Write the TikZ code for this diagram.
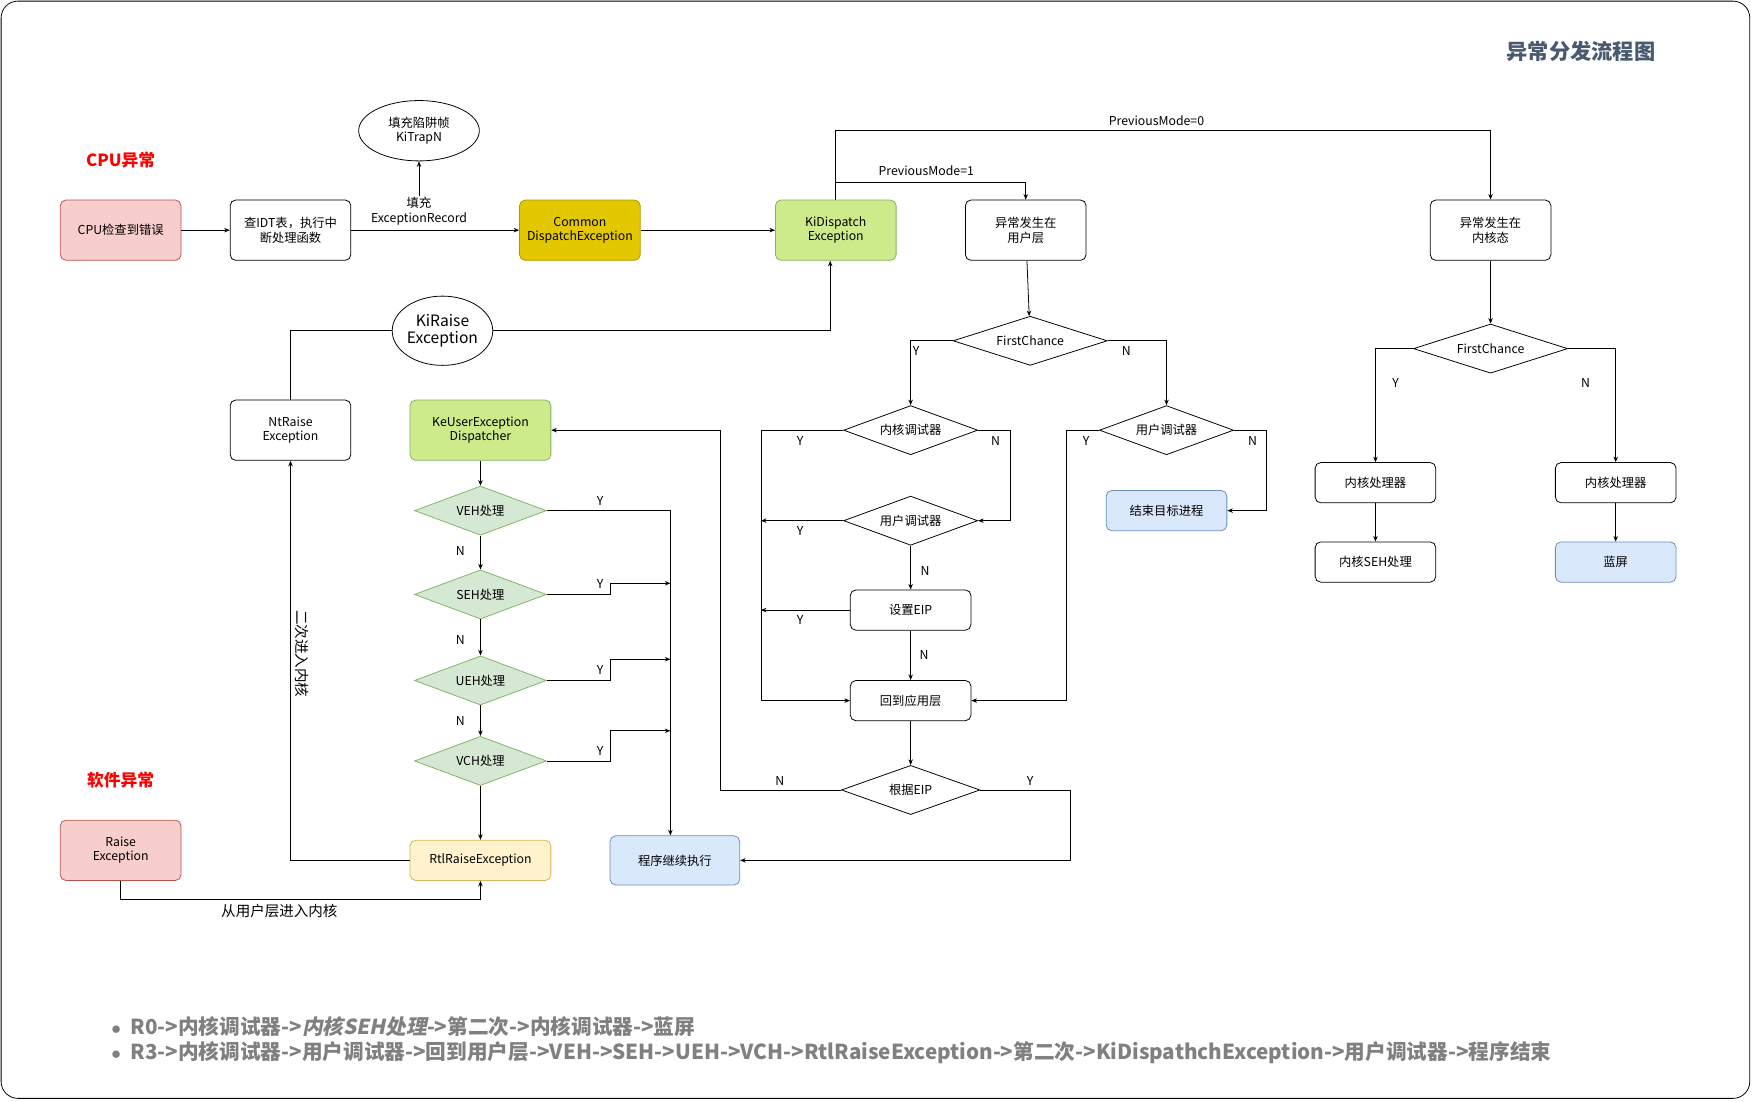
\documentclass[tikz,border=0pt]{standalone}
\usepackage{fontspec}
\setmainfont{Noto Sans CJK SC}
\newfontfamily\slcjk{Noto Sans CJK SC}[FakeSlant=0.2]
\usetikzlibrary{shapes.geometric,arrows.meta}
\definecolor{redf}{HTML}{F8CECC}\definecolor{redd}{HTML}{B85450}
\definecolor{yelf}{HTML}{E3C800}\definecolor{yeld}{HTML}{B09500}
\definecolor{grnf}{HTML}{CDEB8B}\definecolor{grnd}{HTML}{82B366}
\definecolor{lgrf}{HTML}{D5E8D4}
\definecolor{bluf}{HTML}{DAE8FC}\definecolor{blud}{HTML}{6C8EBF}
\definecolor{ltyf}{HTML}{FFF2CC}\definecolor{ltyd}{HTML}{D6B656}
\definecolor{titc}{HTML}{4A5A6E}
\begin{document}
\begin{tikzpicture}[x=1pt,y=-1pt,
 every node/.style={font=\fontsize{11}{13}\selectfont,align=center},
 box/.style={draw,rounded corners=5pt,minimum width=108pt,minimum height=54pt,inner sep=1pt},
 sbox/.style={box,minimum height=36pt},
 dia/.style={draw,diamond,inner sep=0pt,minimum width=#1,minimum height=44pt,shape aspect=3},
 dia/.default=120pt,
 gdia/.style={dia=118pt,fill=lgrf,draw=grnd},
 lab/.style={font=\fontsize{11}{13}\selectfont,inner sep=1pt},
 ar/.style={-{Stealth[length=5pt,width=4pt]}},
 line width=0.7pt]
\useasboundingbox (0,0) rectangle (1568,985.5);
\draw[rounded corners=15pt] (1,1) rectangle (1566,983);
\node[font=\fontsize{19}{21}\selectfont\bfseries,text=titc] (title) at (1415,46) {异常分发流程图};
\node[font=\fontsize{15}{17}\selectfont\bfseries,text=red] (cpul) at (108,143) {CPU异常};
\node[font=\fontsize{15}{17}\selectfont\bfseries,text=red] (swl) at (108,698) {软件异常};
% nodes
\node[box,fill=redf,draw=redd] (cpu) at (108,206) {CPU检查到错误};
\node[box] (idt) at (260,206) {查IDT表，执行中\\断处理函数};
\node[draw,ellipse,minimum width=108pt,minimum height=54pt,inner sep=0pt] (trap) at (375,117) {填充陷阱帧\\KiTrapN};
\node[lab] (fill) at (375,189) {填充\\ExceptionRecord};
\node[box,fill=yelf,draw=yeld] (common) at (519,206) {Common\\DispatchException};
\node[box,fill=grnf,draw=grnd] (kid) at (748,206) {KiDispatch\\Exception};
\node[box] (user) at (918,206) {异常发生在\\用户层};
\node[box] (kern) at (1334,206) {异常发生在\\内核态};
\node[draw,ellipse,minimum width=90pt,minimum height=62pt,inner sep=0pt,font=\fontsize{14}{16}\selectfont] (kiraise) at (396,296) {KiRaise\\Exception};
\node[box] (nt) at (260,385) {NtRaise\\Exception};
\node[box,fill=grnf,draw=grnd,minimum width=126pt] (keu) at (430,385) {KeUserException\\Dispatcher};
\node[dia=138pt] (fc1) at (922,305) {FirstChance};
\node[dia=138pt] (fc2) at (1334,312) {FirstChance};
\node[dia] (kd1) at (815,385) {内核调试器};
\node[dia] (ud1) at (1044,385) {用户调试器};
\node[sbox,fill=bluf,draw=blud] (end) at (1044,457) {结束目标进程};
\node[dia] (ud2) at (815,466) {用户调试器};
\node[sbox] (seip) at (815,546) {设置EIP};
\node[sbox] (back) at (815,627) {回到应用层};
\node[dia=124pt] (eip) at (815,707) {根据EIP};
\node[box,fill=bluf,draw=blud,minimum width=116pt,minimum height=44pt] (cont) at (604,770) {程序继续执行};
\node[gdia] (veh) at (430,457) {VEH处理};
\node[gdia] (seh) at (430,532) {SEH处理};
\node[gdia] (ueh) at (430,609) {UEH处理};
\node[gdia] (vch) at (430,681) {VCH处理};
\node[sbox,fill=ltyf,draw=ltyd,minimum width=126pt] (rtl) at (430,770) {RtlRaiseException};
\node[box,fill=redf,draw=redd] (raise) at (108,761) {Raise\\Exception};
\node[sbox] (kp1) at (1231,432) {内核处理器};
\node[sbox] (kseh) at (1231,503) {内核SEH处理};
\node[sbox] (kp2) at (1446,432) {内核处理器};
\node[sbox,fill=bluf,draw=blud] (bsod) at (1446,503) {蓝屏};
% edges
\draw[ar] (cpu) -- (idt);
\draw[ar] (idt) -- (common);
\draw[ar] (fill) -- (trap);
\draw[ar] (common) -- (kid);
\draw[ar] (kid.north) -- (748,117) -- (1334,117) -- (kern.north);
\node[lab] (pm0) at (1035,108) {PreviousMode=0};
\draw[ar] (748,163) -- (918,163) -- (user.north);
\node[lab] (pm1) at (829,153) {PreviousMode=1};
\draw[ar] (user) -- (fc1);
\draw[ar] (fc1.west) -- (815,305) -- (kd1.north);
\draw[ar] (fc1.east) -- (1044,305) -- (ud1.north);
\draw[ar] (kd1.west) -- (681,385) -- (681,627) -- (back.west);
\draw[ar] (kd1.east) -- (904,385) -- (904,466) -- (ud2.east);
\draw[ar] (ud2.west) -- (681,466);
\draw[ar] (ud2) -- (seip);
\draw[ar] (seip.west) -- (681,546);
\draw[ar] (seip) -- (back);
\draw[ar] (back) -- (eip);
\draw[ar] (eip.west) -- (645,707) -- (645,385) -- (keu.east);
\draw[ar] (eip.east) -- (958,707) -- (958,770) -- (cont.east);
\draw[ar] (ud1.west) -- (954,385) -- (954,627) -- (back.east);
\draw[ar] (ud1.east) -- (1133,385) -- (1133,457) -- (end.east);
\draw[ar] (kern) -- (fc2);
\draw[ar] (fc2.west) -- (1231,312) -- (kp1.north);
\draw[ar] (fc2.east) -- (1446,312) -- (kp2.north);
\draw[ar] (kp1) -- (kseh);
\draw[ar] (kp2) -- (bsod);
\draw[ar] (keu) -- (veh);
\draw[ar] (veh) -- (seh);
\draw[ar] (seh) -- (ueh);
\draw[ar] (ueh) -- (vch);
\draw[ar] (vch) -- (rtl);
\draw[ar] (veh.east) -- (600,457) -- (cont.north -| 600,0);
\draw[ar] (seh.east) -- (546,532) -- (546,522) -- (600,522);
\draw[ar] (ueh.east) -- (546,609) -- (546,590) -- (600,590);
\draw[ar] (vch.east) -- (546,681) -- (546,654) -- (600,654);
\draw[ar] (rtl.west) -- (260,770) -- (nt.south);
\draw (nt.north) -- (260,296) -- (kiraise.west);
\draw[ar] (kiraise.east) -- (743,296) -- (kid.south -| 743,0);
\draw[ar] (raise.south) -- (108,805) -- (430,805) -- (rtl.south);
% labels
\node[lab] (l1) at (820,314) {Y};
\node[lab] (l2) at (1008,314) {N};
\node[lab] (l3) at (716,395) {Y};
\node[lab] (l4) at (891,395) {N};
\node[lab] (l5) at (716,475) {Y};
\node[lab] (l6) at (828,511) {N};
\node[lab] (l7) at (716,555) {Y};
\node[lab] (l8) at (827,586) {N};
\node[lab] (l9) at (698,699) {N};
\node[lab] (l10) at (922,699) {Y};
\node[lab] (l11) at (972,395) {Y};
\node[lab] (l12) at (1121,395) {N};
\node[lab] (l13) at (1249,343) {Y};
\node[lab] (l14) at (1419,343) {N};
\node[lab] (l15) at (537,448) {Y};
\node[lab] (l16) at (537,523) {Y};
\node[lab] (l17) at (537,600) {Y};
\node[lab] (l18) at (537,672) {Y};
\node[lab] (l19) at (412,493) {N};
\node[lab] (l20) at (412,573) {N};
\node[lab] (l21) at (412,645) {N};
\node[lab,font=\fontsize{13}{15}\selectfont] (l22) at (250,815) {从用户层进入内核};
\node[lab,rotate=-90,font=\fontsize{13}{15}\selectfont] (l23) at (270,585) {二次进入内核};
\node[anchor=west,align=left,text=gray,font=\fontsize{18.5}{23}\selectfont\bfseries] (notes) at (96,931) {$\bullet$\ \ R0->内核调试器->{\slcjk 内核SEH处理}->第二次->内核调试器->蓝屏\\$\bullet$\ \ R3->内核调试器->用户调试器->回到用户层->VEH->SEH->UEH->VCH->RtlRaiseException->第二次->KiDispathchException->用户调试器->程序结束};
\end{tikzpicture}
\end{document}
